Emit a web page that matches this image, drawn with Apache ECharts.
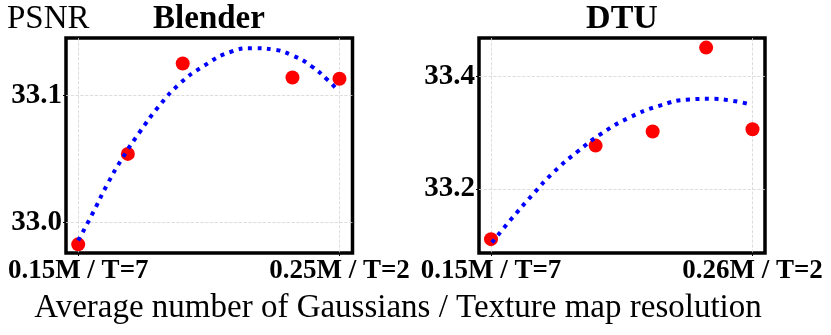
<!DOCTYPE html>
<html>
<head>
<meta charset="utf-8">
<script src="https://cdn.jsdelivr.net/npm/echarts@6/dist/echarts.min.js"></script>
<style>
  html, body { margin: 0; padding: 0; background: #fff; }
  #main { width: 831px; height: 335px; }
</style>
</head>
<body>
<div id="main"></div>
<script>
const blenderX = [0.15, 0.169, 0.19, 0.232, 0.25];
const blenderPsnr = [32.983, 33.054, 33.125, 33.114, 33.113];
const blenderFitX = [0.15, 0.1557, 0.1611, 0.167, 0.1735, 0.1807, 0.1888, 0.198, 0.2082, 0.2171, 0.2246, 0.2323, 0.2392, 0.2455, 0.2484];
const blenderFitY = [32.986, 33.008, 33.030, 33.051, 33.071, 33.091, 33.109, 33.123, 33.134, 33.137, 33.136, 33.131, 33.123, 33.112, 33.106];
const blenderXTicks = [0.15, 0.25];
const blenderXLabels = ['0.15M / T=7', '0.25M / T=2'];
const blenderYTicks = [33.0, 33.1];

// DTU
const dtuX = [0.15, 0.194, 0.218, 0.2405, 0.26];
const dtuPsnr = [33.111, 33.277, 33.302, 33.451, 33.306];
const dtuFitX = [0.1504, 0.1588, 0.1673, 0.1764, 0.1863, 0.1967, 0.2083, 0.2203, 0.2335, 0.2422, 0.2509, 0.2593];
const dtuFitY = [33.105, 33.148, 33.189, 33.230, 33.266, 33.299, 33.327, 33.347, 33.359, 33.360, 33.357, 33.350];
const dtuXTicks = [0.15, 0.26];
const dtuXLabels = ['0.15M / T=7', '0.26M / T=2'];
const dtuYTicks = [33.2, 33.4];

const serif = 'Liberation Serif';
const zip = (xs, ys) => xs.map((x, i) => [x, ys[i]]);

function xAxisFor(idx, min, max, ticks, labels) {
  return {
    type: 'value', gridIndex: idx, min: min, max: max,
    axisLine: { show: false },
    axisTick: { show: true, length: 3, customValues: ticks, lineStyle: { color: '#000' } },
    axisLabel: {
      customValues: ticks, margin: 5,
      fontFamily: serif, fontWeight: 'bold', fontSize: 27, color: '#000',
      formatter: v => labels[ticks.findIndex(t => Math.abs(t - v) < 1e-6)]
    },
    splitLine: { show: true, lineStyle: { color: '#d4d4d4', type: 'dashed', width: 0.8 } }
  };
}

function yAxisFor(idx, min, max, ticks) {
  return {
    type: 'value', gridIndex: idx, min: min, max: max,
    axisLine: { show: false },
    axisTick: { show: true, length: 3, customValues: ticks, lineStyle: { color: '#000' } },
    axisLabel: {
      customValues: ticks, margin: 4,
      fontFamily: serif, fontWeight: 'bold', fontSize: 29, color: '#000',
      formatter: v => v.toFixed(1)
    },
    splitLine: { show: true, lineStyle: { color: '#d4d4d4', type: 'dashed', width: 0.8 } }
  };
}

const gridStyle = { show: true, borderColor: '#000', borderWidth: 3.5, backgroundColor: 'transparent' };
const dotStyle = { color: '#ff0000', opacity: 1 };
const fitLine = { color: '#0000ff', width: 4, type: [4, 5.5], cap: 'butt' };

const chart = echarts.init(document.getElementById('main'));
chart.setOption({
  animation: false,
  grid: [
    Object.assign({ left: 66, top: 38, width: 286.5, height: 215 }, gridStyle),
    Object.assign({ left: 479, top: 38, width: 286, height: 215 }, gridStyle)
  ],
  xAxis: [
    xAxisFor(0, 0.14533, 0.25498, blenderXTicks, blenderXLabels),
    xAxisFor(1, 0.14495, 0.26526, dtuXTicks, dtuXLabels)
  ],
  yAxis: [
    yAxisFor(0, 32.9762, 33.145, blenderYTicks),
    yAxisFor(1, 33.0864, 33.468, dtuYTicks)
  ],
  graphic: [
    { type: 'text', x: 7, y: 19.7, style: { text: 'PSNR', font: 'normal 33px "Liberation Serif"', fill: '#000', align: 'left', verticalAlign: 'middle' } },
    { type: 'text', x: 209, y: 19.3, style: { text: 'Blender', font: 'bold 33px "Liberation Serif"', fill: '#000', align: 'center', verticalAlign: 'middle' } },
    { type: 'text', x: 622, y: 19.3, style: { text: 'DTU', font: 'bold 34px "Liberation Serif"', fill: '#000', align: 'center', verticalAlign: 'middle' } },
    { type: 'text', x: 398, y: 308.3, style: { text: 'Average number of Gaussians / Texture map resolution', font: 'normal 33px "Liberation Serif"', fill: '#000', align: 'center', verticalAlign: 'middle' } }
  ],
  series: [
    { type: 'scatter', xAxisIndex: 0, yAxisIndex: 0, data: zip(blenderX, blenderPsnr), symbolSize: 14, itemStyle: dotStyle },
    { type: 'line', xAxisIndex: 0, yAxisIndex: 0, data: zip(blenderFitX, blenderFitY), smooth: true, showSymbol: false, lineStyle: fitLine },
    { type: 'scatter', xAxisIndex: 1, yAxisIndex: 1, data: zip(dtuX, dtuPsnr), symbolSize: 14, itemStyle: dotStyle },
    { type: 'line', xAxisIndex: 1, yAxisIndex: 1, data: zip(dtuFitX, dtuFitY), smooth: true, showSymbol: false, lineStyle: fitLine }
  ]
});
</script>
</body>
</html>
